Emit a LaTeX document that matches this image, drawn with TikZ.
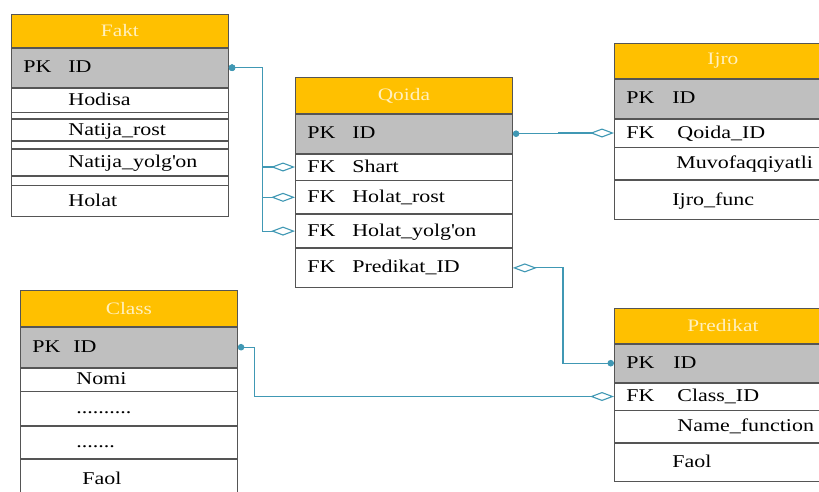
\documentclass[tikz,border=0pt]{standalone}
\usepackage{fontspec}
\setmainfont{Liberation Serif}[FakeStretch=1.22]
\usetikzlibrary{positioning,arrows.meta}
\definecolor{erdgold}{RGB}{255,192,0}
\definecolor{erdgray}{RGB}{191,191,191}
\definecolor{erdline}{RGB}{85,85,85}
\definecolor{erdteal}{RGB}{64,152,180}
\definecolor{erdtitle}{RGB}{255,240,190}
\newcommand\keyfld[3][45pt]{\makebox[#1][l]{#2}#3}
\newcommand\fld[2][45pt]{\hspace*{#1}#2}

\begin{document}
\begin{tikzpicture}[x=1pt, y=-1pt,
  tblhead/.style={draw=erdline, fill=erdgold, line width=0.8pt, minimum width=217pt, anchor=north west, inner sep=0pt, font=\fontsize{17.5}{19}\selectfont, text=erdtitle},
  tblrow/.style={draw=erdline, fill=white, line width=0.8pt, text width=193pt, inner xsep=12pt, inner ysep=0pt, align=left, text height=13pt, text depth=3pt, font=\fontsize{18}{20}\selectfont},
  keyrow/.style={tblrow, fill=erdgray},
  gaprow/.style={tblrow, text height=0pt, text depth=0pt},
  one/.style={erdteal, line width=1.1pt, {Circle[length=6.5pt]}-{Diamond[open, length=24pt, width=9pt]}},
]
\useasboundingbox (0,0) rectangle (819,491);
\clip (0,0) rectangle (819,491);
\fill[white] (0,0) rectangle (819,491);

% Fakt
\node[tblhead, minimum height=33pt] (fakt) at (11,14) {Fakt};
\node[keyrow, minimum height=39pt, below=0pt of fakt] (fakt-pk) {\keyfld{PK}{ID}};
\node[tblrow, minimum height=24pt, below=0pt of fakt-pk] (fakt-hod) {\fld{Hodisa}};
\node[gaprow, minimum height=6pt, below=0pt of fakt-hod] (fakt-g1) {};
\node[tblrow, minimum height=21pt, below=0pt of fakt-g1] (fakt-nrost) {\fld{Natija\_rost}};
\node[gaprow, minimum height=7pt, below=0pt of fakt-nrost] (fakt-g2) {};
\node[tblrow, minimum height=26pt, below=0pt of fakt-g2] (fakt-nyolg) {\fld{Natija\_yolg\textquotesingle on}};
\node[gaprow, minimum height=9pt, below=0pt of fakt-nyolg] (fakt-g3) {};
\node[tblrow, minimum height=31pt, below=0pt of fakt-g3] (fakt-hol) {\fld{Holat}};

% Qoida
\node[tblhead, minimum height=36pt] (qoida) at (295,77) {Qoida};
\node[keyrow, minimum height=39pt, below=0pt of qoida] (qoida-pk) {\keyfld{PK}{ID}};
\node[tblrow, minimum height=26pt, below=0pt of qoida-pk] (qoida-shart) {\keyfld{FK}{Shart}};
\node[tblrow, minimum height=33pt, below=0pt of qoida-shart] (qoida-hrost) {\keyfld{FK}{Holat\_rost}};
\node[tblrow, minimum height=33pt, below=0pt of qoida-hrost] (qoida-hyolg) {\keyfld{FK}{Holat\_yolg\textquotesingle on}};
\node[tblrow, minimum height=39pt, below=0pt of qoida-hyolg] (qoida-pid) {\keyfld{FK}{Predikat\_ID}};

% Ijro
\node[tblhead, minimum height=35pt] (ijro) at (614,43) {Ijro};
\node[keyrow, minimum height=39pt, below=0pt of ijro] (ijro-pk) {\keyfld[46pt]{PK}{ID}};
\node[tblrow, minimum height=28pt, below=0pt of ijro-pk] (ijro-qid) {\keyfld[51pt]{FK}{Qoida\_ID}};
\node[tblrow, minimum height=32pt, below=0pt of ijro-qid] (ijro-muv) {\fld[50pt]{Muvofaqqiyatli}};
\node[tblrow, minimum height=39pt, below=0pt of ijro-muv] (ijro-func) {\fld[46pt]{Ijro\_func}};

% Class
\node[tblhead, minimum height=36pt] (class) at (20,290) {Class};
\node[keyrow, minimum height=40pt, below=0pt of class] (class-pk) {\keyfld[41pt]{PK}{ID}};
\node[tblrow, minimum height=23pt, below=0pt of class-pk] (class-nomi) {\fld[44pt]{Nomi}};
\node[tblrow, minimum height=34pt, below=0pt of class-nomi] (class-d1) {\fld[44pt]{..........}};
\node[tblrow, minimum height=32pt, below=0pt of class-d1] (class-d2) {\fld[44pt]{.......}};
\node[tblrow, minimum height=40pt, below=0pt of class-d2] (class-faol) {\fld[50pt]{Faol}};

% Predikat
\node[tblhead, minimum height=35pt] (pred) at (614,308) {Predikat};
\node[keyrow, minimum height=38pt, below=0pt of pred] (pred-pk) {\keyfld[47pt]{PK}{ID}};
\node[tblrow, minimum height=27pt, below=0pt of pred-pk] (pred-cid) {\keyfld[51pt]{FK}{Class\_ID}};
\node[tblrow, minimum height=32pt, below=0pt of pred-cid] (pred-name) {\fld[51pt]{Name\_function}};
\node[tblrow, minimum height=38pt, below=0pt of pred-name] (pred-faol) {\fld[46pt]{Faol}};

% relations
\draw[one] (fakt-pk.east) -- ++(34,0) |- (qoida-shart.west);
\draw[one] (fakt-pk.east) -- ++(34,0) |- (qoida-hrost.west);
\draw[one] (fakt-pk.east) -- ++(34,0) |- (qoida-hyolg.west);
\draw[one] (qoida-pk.east) -- ++(46,0) |- (ijro-qid.west);
\draw[one] (pred-pk.west) -- ++(-51,0) |- (qoida-pid.east);
\draw[one] (class-pk.east) -- ++(17,0) |- (pred-cid.west);
\end{tikzpicture}
\end{document}
